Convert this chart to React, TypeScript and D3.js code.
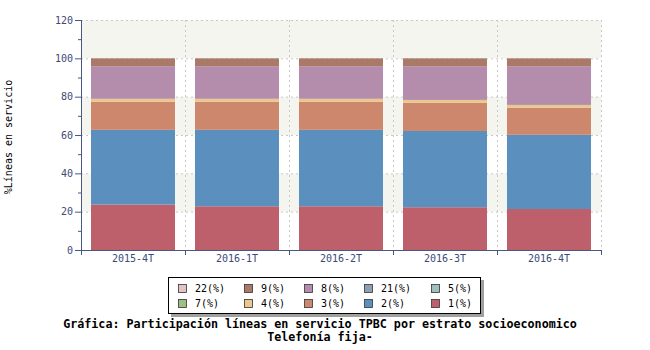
import * as d3 from 'd3';

// Periods (x categories)
const periods = ['2015-4T', '2016-1T', '2016-2T', '2016-3T', '2016-4T'];

// Share of lines per socioeconomic stratum (%)
const e1 = [23.7, 22.8, 22.8, 22.3, 21.4];
const e2 = [39.0, 39.9, 39.9, 39.8, 38.7];
const e3 = [14.6, 14.6, 14.6, 14.7, 14.1];
const e4 = [1.6, 1.6, 1.6, 1.5, 1.5];
const e7 = [0, 0, 0, 0, 0];
const e5 = [0, 0, 0, 0, 0];
const e21 = [0, 0, 0, 0, 0];
const e8 = [17.0, 17.0, 17.0, 17.6, 20.2];
const e9 = [4.1, 4.1, 4.1, 4.1, 4.1];
const e22 = [0, 0, 0, 0, 0];

const yTicks = [0, 20, 40, 60, 80, 100, 120];

// stacking order, bottom to top
const stackKeys = ['1', '2', '3', '4', '7', '5', '21', '8', '9', '22'];
const seriesValues: Record<string, number[]> = {
  '1': e1, '2': e2, '3': e3, '4': e4, '7': e7, '5': e5, '21': e21, '8': e8, '9': e9, '22': e22,
};
const legendKeys = ['22', '9', '8', '21', '5', '7', '4', '3', '2', '1'];

const COLORS: Record<string, string> = {
  '1': '#bd606b',
  '2': '#5b8fbe',
  '3': '#cd876c',
  '4': '#e9c78f',
  '7': '#9fbf82',
  '5': '#9fbebe',
  '21': '#8f9fb3',
  '8': '#b38dab',
  '9': '#a97a68',
  '22': '#e2c2c5',
};

const AXIS = '#4a5782';
const MONO = '"DejaVu Sans Mono", "Liberation Mono", monospace';

export default function App() {
  const width = 650;
  const height = 350;
  const left = 81;
  const right = 601;
  const top = 20;
  const bottom = 250;

  const x = d3.scaleBand<string>()
    .domain(periods)
    .range([left, right])
    .paddingInner(0.1923)
    .paddingOuter(0.0962);
  const step = x.step();

  const y = d3.scaleLinear().domain([0, 120]).range([bottom, top]);

  const table = periods.map((p, i) => {
    const row: Record<string, number | string> = { period: p };
    stackKeys.forEach(k => { row[k] = seriesValues[k][i]; });
    return row;
  });
  const stacked = d3.stack<Record<string, number | string>>()
    .keys(stackKeys)
    .value((d, k) => d[k] as number)(table);

  const minorTicks = d3.range(10, 120, 20);
  const boundaries = d3.range(0, periods.length + 1).map(i => left + i * step);

  // legend layout
  const legendCols = [178, 244, 304, 364, 431];
  const legendRows = [284, 299];

  return (
    <svg width={width} height={height} style={{ position: 'absolute', left: 0, top: 0, background: '#fff' }}>
      {/* alternating background bands */}
      {yTicks.slice(0, -1).map((t, i) => (
        <rect key={'band' + t} x={left} width={right - left}
          y={y(t + 20)} height={y(t) - y(t + 20)}
          fill={i % 2 === 1 ? '#f5f5f0' : '#ffffff'} />
      ))}

      {/* grid */}
      {yTicks.slice(1).map(t => (
        <line key={'gy' + t} x1={left} x2={right} y1={y(t) + 0.5} y2={y(t) + 0.5}
          stroke="#c8c8c8" strokeDasharray="2,3" />
      ))}
      {boundaries.slice(1).map(b => (
        <line key={'gx' + b} x1={b + 0.5} x2={b + 0.5} y1={top} y2={bottom}
          stroke="#c8c8c8" strokeDasharray="2,3" />
      ))}

      {/* bars */}
      {stacked.map(s => (
        <g key={s.key} fill={COLORS[s.key]}>
          {s.map((d, i) => (
            d[1] - d[0] > 0 ? (
              <rect key={i} x={x(periods[i])} width={x.bandwidth()}
                y={y(d[1])} height={y(d[0]) - y(d[1])} />
            ) : null
          ))}
        </g>
      ))}

      {/* y axis */}
      <line x1={left + 0.5} x2={left + 0.5} y1={top} y2={bottom + 0.5} stroke={AXIS} />
      {yTicks.map(t => (
        <g key={'yt' + t}>
          <line x1={left - 6} x2={left} y1={y(t) + 0.5} y2={y(t) + 0.5} stroke={AXIS} />
          <text x={left - 8} y={y(t)} dy="0.35em" textAnchor="end"
            fontFamily={MONO} fontSize={10} fill="#3e4a78">{t}</text>
        </g>
      ))}
      {minorTicks.map(t => (
        <line key={'ym' + t} x1={left - 3} x2={left} y1={y(t) + 0.5} y2={y(t) + 0.5} stroke={AXIS} />
      ))}

      {/* x axis */}
      <line x1={left} x2={right} y1={bottom + 0.5} y2={bottom + 0.5} stroke={AXIS} />
      {boundaries.map(b => (
        <line key={'xt' + b} x1={b + 0.5} x2={b + 0.5} y1={bottom} y2={bottom + 5} stroke={AXIS} />
      ))}
      {periods.map(p => (
        <text key={'xl' + p} x={(x(p) ?? 0) + x.bandwidth() / 2} y={bottom + 12}
          textAnchor="middle" fontFamily={MONO} fontSize={10} fill="#3e4a78">{p}</text>
      ))}

      {/* y label */}
      <text transform={`translate(12,${(top + bottom) / 2 + 2}) rotate(-90)`} textAnchor="middle"
        fontFamily={MONO} fontSize={10} fill="#000">%Líneas en servicio</text>

      {/* legend */}
      <rect x={171} y={280} width={313} height={37} fill="#a0a0a0" />
      <rect x={168.5} y={277.5} width={312} height={36} fill="#fff" stroke="#000" />
      {legendKeys.map((k, i) => {
        const cx = legendCols[i % 5];
        const cy = legendRows[Math.floor(i / 5)];
        return (
          <g key={'lg' + k}>
            <rect x={cx + 0.5} y={cy + 0.5} width={8} height={8} fill={COLORS[k]} stroke="#333" strokeWidth={0.8} />
            <text x={cx + 17} y={cy + 4.5} dy="0.35em" fontFamily={MONO} fontSize={10} fill="#000">{k}(%)</text>
          </g>
        );
      })}

      {/* title */}
      <text x={320} y={328} textAnchor="middle" fontFamily={MONO} fontSize={11.7} fontWeight="bold" fill="#000">
        Gráfica: Participación líneas en servicio TPBC por estrato socioeconomico
      </text>
      <text x={320} y={341} textAnchor="middle" fontFamily={MONO} fontSize={11.7} fontWeight="bold" fill="#000">
        Telefonía fija-
      </text>
    </svg>
  );
}
